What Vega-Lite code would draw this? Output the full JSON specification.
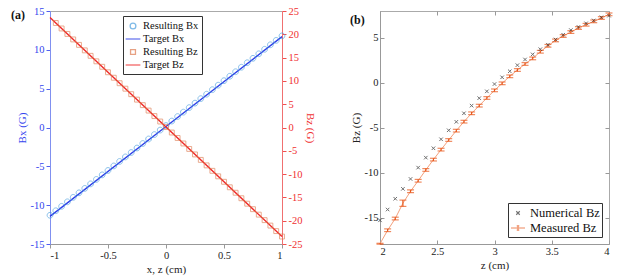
{
  "$schema": "https://vega.github.io/schema/vega-lite/v6.json",
  "padding": {"left": 10, "top": 5, "right": 5, "bottom": 5},
  "spacing": 32,
  "resolve": {"scale": {"color": "independent", "shape": "independent"}, "legend": {"color": "independent", "shape": "independent"}},
  "config": {
    "font": "Liberation Serif",
    "locale": {"number": {"decimal": ".", "thousands": ",", "grouping": [3], "currency": ["$", ""], "minus": "-"}},
    "view": {"stroke": "#aaaaaa", "strokeWidth": 1},
    "axis": {"labelFont": "Liberation Serif", "titleFont": "Liberation Serif", "labelFontSize": 10.5, "titleFontSize": 11, "titleFontWeight": "normal", "grid": false, "tickSize": 4, "labelPadding": 2, "titlePadding": 3, "domainColor": "#999999", "tickColor": "#999999", "labelColor": "#222222", "titleColor": "#222222", "format": "~g"},
    "legend": {"labelFont": "Liberation Serif", "labelFontSize": 10.5, "labelColor": "#111111"},
    "title": {"font": "Liberation Serif", "fontSize": 12, "fontWeight": "bold", "anchor": "start", "frame": "bounds", "offset": -16, "color": "#111111"}
  },
  "datasets": {
    "bx": [
      {"x": -1, "v": -11.3, "series": "Resulting Bx"},
      {"x": -0.95, "v": -10.72, "series": "Resulting Bx"},
      {"x": -0.9, "v": -10.15, "series": "Resulting Bx"},
      {"x": -0.85, "v": -9.57, "series": "Resulting Bx"},
      {"x": -0.8, "v": -8.99, "series": "Resulting Bx"},
      {"x": -0.75, "v": -8.41, "series": "Resulting Bx"},
      {"x": -0.7, "v": -7.84, "series": "Resulting Bx"},
      {"x": -0.65, "v": -7.26, "series": "Resulting Bx"},
      {"x": -0.6, "v": -6.68, "series": "Resulting Bx"},
      {"x": -0.55, "v": -6.1, "series": "Resulting Bx"},
      {"x": -0.5, "v": -5.53, "series": "Resulting Bx"},
      {"x": -0.45, "v": -4.95, "series": "Resulting Bx"},
      {"x": -0.4, "v": -4.37, "series": "Resulting Bx"},
      {"x": -0.35, "v": -3.79, "series": "Resulting Bx"},
      {"x": -0.3, "v": -3.22, "series": "Resulting Bx"},
      {"x": -0.25, "v": -2.64, "series": "Resulting Bx"},
      {"x": -0.2, "v": -2.06, "series": "Resulting Bx"},
      {"x": -0.15, "v": -1.48, "series": "Resulting Bx"},
      {"x": -0.1, "v": -0.91, "series": "Resulting Bx"},
      {"x": -0.05, "v": -0.33, "series": "Resulting Bx"},
      {"x": 0, "v": 0.25, "series": "Resulting Bx"},
      {"x": 0.05, "v": 0.83, "series": "Resulting Bx"},
      {"x": 0.1, "v": 1.41, "series": "Resulting Bx"},
      {"x": 0.15, "v": 1.98, "series": "Resulting Bx"},
      {"x": 0.2, "v": 2.56, "series": "Resulting Bx"},
      {"x": 0.25, "v": 3.14, "series": "Resulting Bx"},
      {"x": 0.3, "v": 3.72, "series": "Resulting Bx"},
      {"x": 0.35, "v": 4.29, "series": "Resulting Bx"},
      {"x": 0.4, "v": 4.87, "series": "Resulting Bx"},
      {"x": 0.45, "v": 5.45, "series": "Resulting Bx"},
      {"x": 0.5, "v": 6.03, "series": "Resulting Bx"},
      {"x": 0.55, "v": 6.6, "series": "Resulting Bx"},
      {"x": 0.6, "v": 7.18, "series": "Resulting Bx"},
      {"x": 0.65, "v": 7.76, "series": "Resulting Bx"},
      {"x": 0.7, "v": 8.34, "series": "Resulting Bx"},
      {"x": 0.75, "v": 8.91, "series": "Resulting Bx"},
      {"x": 0.8, "v": 9.49, "series": "Resulting Bx"},
      {"x": 0.85, "v": 10.07, "series": "Resulting Bx"},
      {"x": 0.9, "v": 10.65, "series": "Resulting Bx"},
      {"x": 0.95, "v": 11.22, "series": "Resulting Bx"},
      {"x": 1, "v": 11.8, "series": "Resulting Bx"},
      {"x": -1, "v": -11.45, "series": "Target Bx"},
      {"x": 0, "v": 0.12, "series": "Target Bx"},
      {"x": 1, "v": 11.7, "series": "Target Bx"}
    ],
    "bz": [
      {"x": -0.95, "v": 22.43, "series": "Resulting Bz"},
      {"x": -0.9, "v": 21.25, "series": "Resulting Bz"},
      {"x": -0.85, "v": 20.08, "series": "Resulting Bz"},
      {"x": -0.8, "v": 18.9, "series": "Resulting Bz"},
      {"x": -0.75, "v": 17.73, "series": "Resulting Bz"},
      {"x": -0.7, "v": 16.55, "series": "Resulting Bz"},
      {"x": -0.65, "v": 15.38, "series": "Resulting Bz"},
      {"x": -0.6, "v": 14.2, "series": "Resulting Bz"},
      {"x": -0.55, "v": 13.03, "series": "Resulting Bz"},
      {"x": -0.5, "v": 11.85, "series": "Resulting Bz"},
      {"x": -0.45, "v": 10.68, "series": "Resulting Bz"},
      {"x": -0.4, "v": 9.5, "series": "Resulting Bz"},
      {"x": -0.35, "v": 8.33, "series": "Resulting Bz"},
      {"x": -0.3, "v": 7.15, "series": "Resulting Bz"},
      {"x": -0.25, "v": 5.98, "series": "Resulting Bz"},
      {"x": -0.2, "v": 4.8, "series": "Resulting Bz"},
      {"x": -0.15, "v": 3.63, "series": "Resulting Bz"},
      {"x": -0.1, "v": 2.45, "series": "Resulting Bz"},
      {"x": -0.05, "v": 1.28, "series": "Resulting Bz"},
      {"x": 0, "v": 0.1, "series": "Resulting Bz"},
      {"x": 0.05, "v": -1.08, "series": "Resulting Bz"},
      {"x": 0.1, "v": -2.25, "series": "Resulting Bz"},
      {"x": 0.15, "v": -3.43, "series": "Resulting Bz"},
      {"x": 0.2, "v": -4.6, "series": "Resulting Bz"},
      {"x": 0.25, "v": -5.78, "series": "Resulting Bz"},
      {"x": 0.3, "v": -6.95, "series": "Resulting Bz"},
      {"x": 0.35, "v": -8.13, "series": "Resulting Bz"},
      {"x": 0.4, "v": -9.3, "series": "Resulting Bz"},
      {"x": 0.45, "v": -10.48, "series": "Resulting Bz"},
      {"x": 0.5, "v": -11.65, "series": "Resulting Bz"},
      {"x": 0.55, "v": -12.83, "series": "Resulting Bz"},
      {"x": 0.6, "v": -14.0, "series": "Resulting Bz"},
      {"x": 0.65, "v": -15.18, "series": "Resulting Bz"},
      {"x": 0.7, "v": -16.35, "series": "Resulting Bz"},
      {"x": 0.75, "v": -17.53, "series": "Resulting Bz"},
      {"x": 0.8, "v": -18.7, "series": "Resulting Bz"},
      {"x": 0.85, "v": -19.88, "series": "Resulting Bz"},
      {"x": 0.9, "v": -21.05, "series": "Resulting Bz"},
      {"x": 0.95, "v": -22.23, "series": "Resulting Bz"},
      {"x": 1, "v": -23.4, "series": "Resulting Bz"},
      {"x": -1, "v": 23.6, "series": "Target Bz"},
      {"x": 0, "v": 0.1, "series": "Target Bz"},
      {"x": 1, "v": -23.4, "series": "Target Bz"}
    ],
    "b": [
      {"z": 2.0, "meas": -17.9, "err": 0.05, "num": -15.3},
      {"z": 2.0667, "meas": -16.4, "err": 0.15, "num": -14.1},
      {"z": 2.1333, "meas": -15.1, "err": 0.15, "num": -12.9},
      {"z": 2.2, "meas": -13.4, "err": 0.35, "num": -11.8},
      {"z": 2.2667, "meas": -12.07, "err": 0.15, "num": -10.7},
      {"z": 2.3333, "meas": -10.9, "err": 0.15, "num": -9.44},
      {"z": 2.4, "meas": -9.7, "err": 0.15, "num": -8.33},
      {"z": 2.4667, "meas": -8.55, "err": 0.15, "num": -7.29},
      {"z": 2.5333, "meas": -7.44, "err": 0.15, "num": -6.29},
      {"z": 2.6, "meas": -6.37, "err": 0.15, "num": -5.29},
      {"z": 2.6667, "meas": -5.33, "err": 0.15, "num": -4.35},
      {"z": 2.7333, "meas": -4.33, "err": 0.15, "num": -3.4},
      {"z": 2.8, "meas": -3.4, "err": 0.15, "num": -2.55},
      {"z": 2.8667, "meas": -2.55, "err": 0.15, "num": -1.72},
      {"z": 2.9333, "meas": -1.7, "err": 0.15, "num": -0.96},
      {"z": 3.0, "meas": -0.85, "err": 0.15, "num": -0.15},
      {"z": 3.0667, "meas": -0.07, "err": 0.15, "num": 0.6},
      {"z": 3.1333, "meas": 0.71, "err": 0.15, "num": 1.27},
      {"z": 3.2, "meas": 1.41, "err": 0.15, "num": 1.95},
      {"z": 3.2667, "meas": 2.08, "err": 0.15, "num": 2.58},
      {"z": 3.3333, "meas": 2.7, "err": 0.15, "num": 3.15},
      {"z": 3.4, "meas": 3.44, "err": 0.15, "num": 3.72},
      {"z": 3.4667, "meas": 4.1, "err": 0.15, "num": 4.22},
      {"z": 3.5333, "meas": 4.7, "err": 0.15, "num": 4.8},
      {"z": 3.6, "meas": 5.19, "err": 0.15, "num": 5.33},
      {"z": 3.6667, "meas": 5.63, "err": 0.15, "num": 5.85},
      {"z": 3.7333, "meas": 6.08, "err": 0.15, "num": 6.2},
      {"z": 3.8, "meas": 6.44, "err": 0.15, "num": 6.6},
      {"z": 3.8667, "meas": 6.82, "err": 0.15, "num": 6.92},
      {"z": 3.9333, "meas": 7.19, "err": 0.15, "num": 7.27},
      {"z": 4.0, "meas": 7.6, "err": 0.15, "num": 7.45}
    ]
  },
  "hconcat": [
    {
      "width": 232,
      "height": 233,
      "title": {"text": "(a)", "dx": -5},
      "encoding": {
        "x": {"field": "x", "type": "quantitative", "scale": {"domain": [-1, 1], "nice": false},
              "axis": {"values": [-1, -0.5, 0, 0.5, 1], "title": "x, z (cm)", "titlePadding": 3}}
      },
      "layer": [
        {
          "data": {"name": "bx"},
          "encoding": {
            "y": {"field": "v", "type": "quantitative", "scale": {"domain": [-15, 15], "nice": false},
                  "axis": {"orient": "left", "values": [-15, -10, -5, 0, 5, 10, 15], "title": "Bx (G)",
                           "domainColor": "#8090f0", "tickColor": "#5060f0", "labelColor": "#3344ee", "titleColor": "#3344ee"}}
          },
          "layer": [
            {
              "transform": [{"filter": "datum.series == 'Target Bx'"}],
              "mark": {"type": "line", "strokeWidth": 1.4},
              "encoding": {
                "color": {"field": "series", "type": "nominal",
                          "scale": {"domain": ["Resulting Bx", "Target Bx", "Resulting Bz", "Target Bz"], "range": ["#4a9ede", "#2e3ee8", "#dd7a4f", "#f02828"]},
                          "legend": {"orient": "none", "legendX": 73, "legendY": 5, "title": null, "strokeColor": "#333333", "fillColor": "white", "padding": 3, "rowPadding": 0, "symbolSize": 150, "symbolStrokeWidth": 1.3, "labelOffset": 3}}
              }
            },
            {
              "transform": [{"filter": "datum.series == 'Resulting Bx'"}],
              "mark": {"type": "point", "filled": false, "size": 150, "strokeWidth": 0.9},
              "encoding": {
                "color": {"field": "series", "type": "nominal"},
                "shape": {"field": "series", "type": "nominal",
                          "scale": {"domain": ["Resulting Bx", "Target Bx", "Resulting Bz", "Target Bz"],
                                    "range": ["M0.47,0A0.47,0.47 0 1,1 -0.47,0A0.47,0.47 0 1,1 0.47,0Z", "M-1.2,0L1.2,0", "M-0.4,-0.4L0.4,-0.4L0.4,0.4L-0.4,0.4Z", "M-1.2,0L1.2,0"]}}
              }
            }
          ]
        },
        {
          "data": {"name": "bz"},
          "encoding": {
            "y": {"field": "v", "type": "quantitative", "scale": {"domain": [-25, 25], "nice": false},
                  "axis": {"orient": "right", "values": [-25, -20, -15, -10, -5, 0, 5, 10, 15, 20, 25], "title": "Bz (G)",
                           "domainColor": "#f07070", "tickColor": "#f05050", "labelColor": "#f03030", "titleColor": "#f03030"}}
          },
          "layer": [
            {
              "transform": [{"filter": "datum.series == 'Target Bz'"}],
              "mark": {"type": "line", "strokeWidth": 1.4},
              "encoding": {"color": {"field": "series", "type": "nominal"}}
            },
            {
              "transform": [{"filter": "datum.series == 'Resulting Bz'"}],
              "mark": {"type": "point", "filled": false, "size": 150, "strokeWidth": 0.9},
              "encoding": {
                "color": {"field": "series", "type": "nominal"},
                "shape": {"field": "series", "type": "nominal"}
              }
            }
          ]
        }
      ],
      "resolve": {"scale": {"y": "independent"}}
    },
    {
      "width": 229,
      "height": 233,
      "title": {"text": "(b)"},
      "data": {"name": "b"},
      "layer": [
        {
          "encoding": {
            "x": {"field": "z", "type": "quantitative", "scale": {"domain": [2, 4], "nice": false},
                  "axis": {"values": [2, 2.5, 3, 3.5, 4], "title": "z (cm)", "titlePadding": 3, "tickSize": -4, "labelPadding": 6}}
          },
          "layer": [
            {
              "mark": {"type": "line", "color": "#f4a07c", "strokeWidth": 1},
              "encoding": {
                "y": {"field": "meas", "type": "quantitative", "scale": {"domain": [-17.93, 7.97], "nice": false, "zero": false},
                      "axis": {"values": [-15, -10, -5, 0, 5], "title": "Bz (G)", "tickSize": -4, "labelPadding": 6}}
              }
            },
            {
              "mark": {"type": "errorbar", "ticks": {"size": 7, "color": "#e8581c", "strokeWidth": 1.5}, "color": "#e8581c", "thickness": 1.2},
              "encoding": {
                "y": {"field": "meas", "type": "quantitative", "title": "Bz (G)"},
                "yError": {"field": "err"}
              }
            },
            {
              "mark": {"type": "point", "filled": false, "size": 196, "strokeWidth": 1},
              "encoding": {
                "y": {"field": "num", "type": "quantitative", "title": "Bz (G)"},
                "color": {"datum": "Numerical Bz", "type": "nominal",
                          "scale": {"domain": ["Numerical Bz", "Measured Bz"], "range": ["#333333", "#e8581c"]},
                          "legend": {"orient": "bottom-right", "offset": 7, "title": null, "strokeColor": "#333333", "fillColor": "white", "padding": 2, "rowPadding": 0, "symbolSize": 196, "symbolStrokeWidth": 1.1, "labelOffset": 4, "labelFontSize": 12.5}},
                "shape": {"datum": "Numerical Bz", "type": "nominal",
                          "scale": {"domain": ["Numerical Bz", "Measured Bz"], "range": ["M-0.25,-0.25L0.25,0.25M-0.25,0.25L0.25,-0.25", "M-1,0L1,0M0,-0.3L0,0.3M-0.18,-0.3L0.18,-0.3M-0.18,0.3L0.18,0.3"]}}
              }
            }
          ]
        },
        {
          "mark": {"type": "line", "opacity": 0},
          "encoding": {
            "x": {"field": "z", "type": "quantitative", "scale": {"domain": [2, 4], "nice": false},
                  "axis": {"orient": "top", "values": [2, 2.5, 3, 3.5, 4], "labels": false, "domain": false, "title": null, "tickSize": -4}},
            "y": {"field": "meas", "type": "quantitative", "scale": {"domain": [-17.93, 7.97], "nice": false, "zero": false},
                  "axis": {"orient": "right", "values": [-15, -10, -5, 0, 5], "labels": false, "domain": false, "title": null, "tickSize": -4}}
          }
        }
      ],
      "resolve": {"scale": {"x": "independent", "y": "independent"}}
    }
  ]
}
